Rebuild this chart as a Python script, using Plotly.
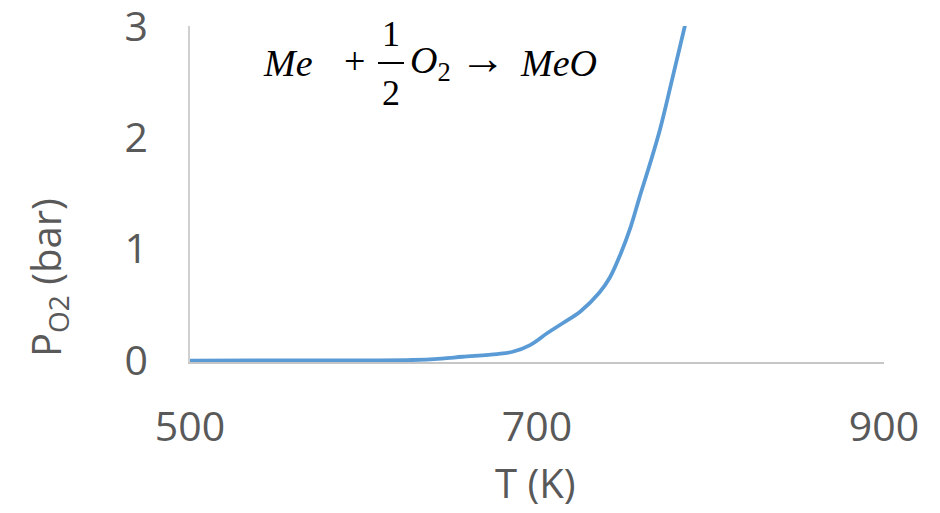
import plotly.graph_objects as go

# Data
T_K = [500, 550, 600, 628, 645, 657, 677, 686, 696, 706, 715, 725, 736, 742, 748, 754, 759, 765, 771, 778, 785.5]
P_O2 = [0, 0.0005, 0.002, 0.005, 0.018, 0.034, 0.058, 0.079, 0.139, 0.247, 0.337, 0.44, 0.61, 0.745, 0.95, 1.20, 1.46, 1.76, 2.08, 2.53, 3.02]
x_ticks = [500, 700, 900]
y_ticks = [0, 1, 2, 3]

W, H = 940, 513
L, R, T, B = 190, 56, 26, 151
PW, PH = W - L - R, H - T - B

def px(x):
    return (x - L) / PW

def py(y):
    return (H - B - y) / PH

TXT = "#595959"
FONT = "Open Sans"
MATH = "Liberation Serif"

fig = go.Figure()
fig.add_trace(go.Scatter(
    x=T_K, y=P_O2, mode="lines",
    line=dict(color="#5b9bd5", width=3.8, shape="spline", smoothing=1.0),
    hoverinfo="skip", showlegend=False,
))

fig.update_layout(
    width=W, height=H,
    margin=dict(l=L, r=R, t=T, b=B, pad=0, autoexpand=False),
    paper_bgcolor="white", plot_bgcolor="white",
    font=dict(family=FONT, color=TXT, size=40),
    xaxis=dict(range=[500, 900], tickvals=x_ticks, ticktext=[str(v) for v in x_ticks],
               showgrid=False, zeroline=False, showline=True, linecolor="#c6c6c6", linewidth=1.5,
               ticks="outside", ticklen=28, tickcolor="rgba(0,0,0,0)", ticklabeloverflow="allow",
               automargin=False,
               tickfont=dict(size=41, color=TXT, family=FONT), layer="below traces"),
    yaxis=dict(range=[-0.013, 3.002], tickvals=y_ticks, ticktext=[str(v) for v in y_ticks],
               showgrid=False, zeroline=False, showline=True, linecolor="#d0d0d0", linewidth=1.5,
               ticks="outside", ticklen=32, tickcolor="rgba(0,0,0,0)", ticklabeloverflow="allow",
               automargin=False,
               tickfont=dict(size=41, color=TXT, family=FONT), layer="below traces"),
)

ann = []
# axis titles
ann.append(dict(text="T (K)", x=px(535), y=py(512), xref="paper", yref="paper",
                showarrow=False, xanchor="center", yanchor="bottom",
                font=dict(size=40, color=TXT, family=FONT)))
ann.append(dict(text="P<sub>O2</sub> (bar)", x=px(47), y=py(278), xref="paper", yref="paper",
                showarrow=False, xanchor="center", yanchor="middle", textangle=-90,
                font=dict(size=40, color=TXT, family=FONT)))
# equation
eqf = dict(size=38, color="black", family=MATH)
numf = dict(size=36, color="black", family=MATH)
arrf = dict(size=46, color="black", family=MATH)
def eq(text, x, y, anchor="left", f=eqf):
    ann.append(dict(text=text, x=px(x), y=py(y), xref="paper", yref="paper",
                    showarrow=False, xanchor=anchor, yanchor="middle", font=f))
eq("<i>Me</i>", 261, 63)
eq("+", 354, 61, "center")
eq("1", 391, 34, "center", numf)
eq("2", 391, 93, "center", numf)
eq("<i>O</i><sub>2</sub>", 408, 63)
eq("\u2192", 483, 59, "center", arrf)
eq("<i>MeO</i>", 518, 63)
fig.update_layout(annotations=ann)
fig.add_shape(type="line", xref="paper", yref="paper", x0=px(378), x1=px(404), y0=py(63), y1=py(63),
              line=dict(color="black", width=2))

fig.write_html("out.html")
